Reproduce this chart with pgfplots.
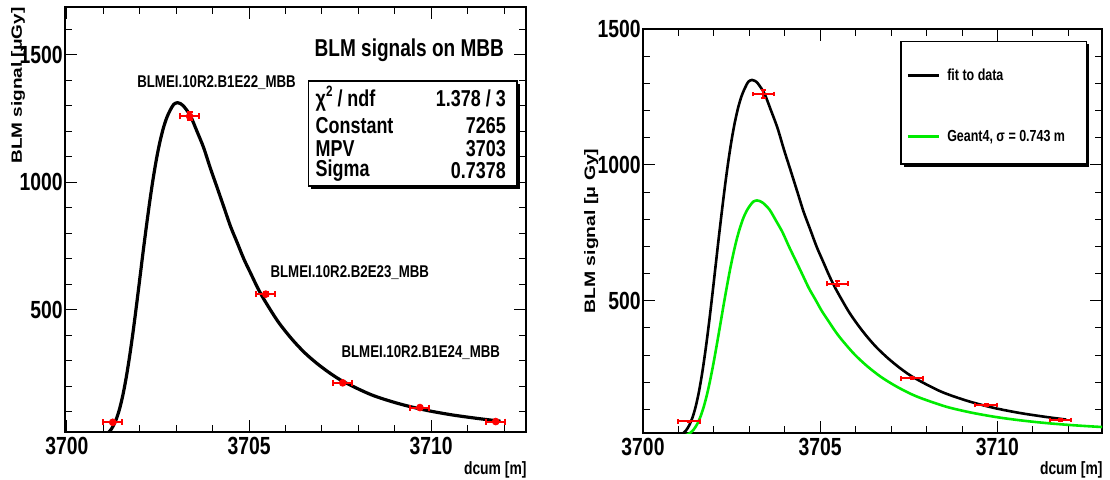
\documentclass[border=0pt]{standalone}
\usepackage{fontspec}
\setmainfont{Liberation Sans}[FakeStretch=0.78]
\newfontfamily\plainfont{Liberation Sans}
\usepackage{graphicx}
\usepackage{pgfplots}
\usepackage{pgfplotstable}
\pgfplotsset{compat=1.18}
\definecolor{rootgreen}{RGB}{0,235,0}
\definecolor{rootred}{RGB}{255,0,0}

\pgfplotstableread{
x y ex ey
3701.26 58 0.26 3
3703.37 1259 0.26 15
3705.46 561 0.26 9
3707.57 213 0.26 4
3709.69 116 0.26 3
3711.77 61 0.26 2
}\dataL

\pgfplotstableread{
x y ex ey
3701.30 56 0.30 3
3703.39 1261 0.30 15
3705.48 562 0.30 9
3707.59 215 0.30 4
3709.68 116 0.30 3
3711.78 61 0.30 2
}\dataR

\pgfplotstableread{
x y
3700.987 4.9
3701.079 10.9
3701.171 22.0
3701.263 41
3701.356 69.8
3701.448 111
3701.540 166.2
3701.632 235.7
3701.724 318.2
3701.817 412
3701.909 513.7
3702.001 619.9
3702.093 726.6
3702.186 829.9
3702.278 927.3
3702.370 1015.5
3702.462 1093.2
3702.554 1158.4
3702.647 1211.8
3702.739 1252.4
3702.831 1281.5
3702.933 1306
3703.036 1312.5
3703.118 1309
3703.200 1299.7
3703.385 1262.7
3703.569 1200.9
3703.754 1136
3703.938 1055.6
3704.123 980
3704.307 903.8
3704.492 827
3704.676 762.8
3704.861 698
3705.045 642.9
3705.229 588
3705.413 539.8
3705.782 456.2
3706.151 388.7
3706.520 332
3706.889 286.2
3707.258 247.3
3707.627 215.0
3708.365 165.6
3709.102 131.6
3709.840 106.0
3710.578 87.0
3711.316 72.4
3711.900 62.5
}\fitL

\pgfplotstableread{
x y
3701.027 4.9
3701.119 10.9
3701.211 22.0
3701.303 41
3701.396 69.8
3701.488 111
3701.580 166.2
3701.672 235.7
3701.764 318.2
3701.857 412
3701.949 513.7
3702.041 619.9
3702.133 726.6
3702.226 829.9
3702.318 927.3
3702.410 1015.5
3702.502 1093.2
3702.594 1158.4
3702.687 1211.8
3702.779 1252.4
3702.871 1281.5
3702.973 1306
3703.076 1312.5
3703.158 1309
3703.240 1299.7
3703.425 1262.7
3703.609 1200.9
3703.794 1136
3703.978 1055.6
3704.163 980
3704.347 903.8
3704.532 827
3704.716 762.8
3704.901 698
3705.085 642.9
3705.269 588
3705.453 539.8
3705.822 456.2
3706.191 388.7
3706.560 332
3706.929 286.2
3707.298 247.3
3707.667 215.0
3708.405 165.6
3709.142 131.6
3709.880 106.0
3710.618 87.0
3711.356 72.4
3711.940 62.5
}\fitR

\pgfplotstableread{
x y
3701.160 3.2
3701.253 7.2
3701.345 14.6
3701.438 27.1
3701.530 46.2
3701.623 73.6
3701.715 110.0
3701.808 156.1
3701.900 210.7
3701.993 272.8
3702.085 340.1
3702.178 410.4
3702.270 481.1
3702.363 549.5
3702.455 613.9
3702.548 672.3
3702.640 723.8
3702.733 767.0
3702.825 802.3
3702.918 829.2
3703.010 848.5
3703.112 864.6
3703.215 869.0
3703.298 866.6
3703.380 860.5
3703.565 836.0
3703.750 795.1
3703.935 752.1
3704.120 698.9
3704.305 648.8
3704.490 598.4
3704.675 547.5
3704.860 505.0
3705.045 462.1
3705.230 425.6
3705.415 389.3
3705.600 357.4
3705.970 302.0
3706.340 257.3
3706.710 219.8
3707.080 189.5
3707.450 163.7
3707.820 142.4
3708.560 109.6
3709.300 87.1
3710.040 70.2
3710.780 57.6
3711.520 47.9
3712.260 40.5
3713.000 34.6
}\geantfit

\pgfplotsset{
  rootaxis/.style={
    scale only axis,
    axis line style={line width=1pt},
    tick style={black, line width=0.5pt},
    major tick length=6pt,
    minor tick length=3.3pt,
    tick align=inside,
    xtick={3700,3705,3710},
    xticklabels={3700,3705,3710},
    minor xtick={3701,3702,3703,3704,3706,3707,3708,3709,3711,3712},
    ytick={500,1000,1500},
    yticklabels={500,1000,1500},
    tick label style={font=\bfseries\fontsize{12.4}{12.4}\selectfont},
    xticklabel style={inner sep=2.5pt},
    yticklabel style={inner sep=1pt},
    xlabel style={inner sep=0pt, anchor=east, font=\bfseries\fontsize{8.9}{8.9}\selectfont},
    ylabel style={inner sep=0pt},
  },
}

\begin{document}
\begin{tikzpicture}
\path[use as bounding box] (0,0) rectangle (555pt,239.5pt);

% ---------------- left panel ----------------
\begin{axis}[rootaxis,
  at={(32.5pt,23.5pt)}, anchor=south west,
  width=230.5pt, height=212.5pt,
  xmin=3699.95, xmax=3712.6, ymin=20, ymax=1688,
  minor ytick={100,200,300,400,600,700,800,900,1100,1200,1300,1400,1600},
  xlabel={dcum [m]},
  xlabel style={at={(axis description cs:1.002,-0.088)}},
  ylabel={\scalebox{1}[0.78]{\plainfont\bfseries\fontsize{9.5}{9.5}\selectfont BLM signal [μGy]}},
  ylabel style={at={(axis description cs:-0.102,1.0)}, anchor=east},
]
\addplot[black, line width=1.6pt, smooth] table[x=x,y=y] {\fitL};
\addplot[rootred, only marks, mark=*, mark size=1.7pt,
  error bars/.cd, x dir=both, x explicit, y dir=both, y explicit,
  error bar style={line width=1pt, rootred},
  error mark options={line width=1pt, rootred, mark size=1.5pt, rotate=90}]
  table[x=x, y=y, x error=ex, y error=ey] {\dataL};

\node[anchor=east, inner sep=0pt, font=\bfseries\fontsize{12.2}{12.2}\selectfont]
  at (axis description cs:0.953,0.899) {BLM signals on MBB};
\fill[black] ([xshift=1.3pt,yshift=-1.3pt]axis description cs:0.5275,0.579)
  rectangle ([xshift=1.3pt,yshift=-1.3pt]axis description cs:0.9805,0.826);
\filldraw[draw=black, fill=white, line width=0.6pt]
  (axis description cs:0.5275,0.579) rectangle (axis description cs:0.9805,0.826);
\node[anchor=west, inner sep=0pt, font=\bfseries\fontsize{11.5}{11.5}\selectfont]
  at (axis description cs:0.543,0.784) {χ\raisebox{0.85ex}{\fontsize{7.5}{7.5}\selectfont 2} / ndf};
\node[anchor=east, inner sep=0pt, font=\bfseries\fontsize{11.5}{11.5}\selectfont]
  at (axis description cs:0.957,0.784) {1.378 / 3};
\node[anchor=west, inner sep=0pt, font=\bfseries\fontsize{11.5}{11.5}\selectfont]
  at (axis description cs:0.543,0.722) {Constant};
\node[anchor=east, inner sep=0pt, font=\bfseries\fontsize{11.5}{11.5}\selectfont]
  at (axis description cs:0.957,0.722) {7265};
\node[anchor=west, inner sep=0pt, font=\bfseries\fontsize{11.5}{11.5}\selectfont]
  at (axis description cs:0.543,0.668) {MPV};
\node[anchor=east, inner sep=0pt, font=\bfseries\fontsize{11.5}{11.5}\selectfont]
  at (axis description cs:0.957,0.668) {3703};
\node[anchor=west, inner sep=0pt, font=\bfseries\fontsize{11.5}{11.5}\selectfont]
  at (axis description cs:0.543,0.616) {Sigma};
\node[anchor=east, inner sep=0pt, font=\bfseries\fontsize{11.5}{11.5}\selectfont]
  at (axis description cs:0.957,0.614) {0.7378};

\node[anchor=west, inner sep=0pt, font=\bfseries\fontsize{8.5}{8.5}\selectfont]
  at (axis description cs:0.156,0.821) {BLMEI.10R2.B1E22\_MBB};
\node[anchor=west, inner sep=0pt, font=\bfseries\fontsize{8.5}{8.5}\selectfont]
  at (axis description cs:0.445,0.374) {BLMEI.10R2.B2E23\_MBB};
\node[anchor=west, inner sep=0pt, font=\bfseries\fontsize{8.5}{8.5}\selectfont]
  at (axis description cs:0.599,0.186) {BLMEI.10R2.B1E24\_MBB};
\end{axis}

% ---------------- right panel ----------------
\begin{axis}[rootaxis,
  at={(321.5pt,23pt)}, anchor=south west,
  width=229.5pt, height=202pt,
  xmin=3700, xmax=3712.95, ymin=13, ymax=1500,
  minor ytick={100,200,300,400,600,700,800,900,1100,1200,1300,1400},
  xlabel={dcum [m]},
  xlabel style={at={(axis description cs:1.002,-0.0905)}},
  ylabel={\scalebox{1}[0.78]{\plainfont\bfseries\fontsize{9.7}{9.7}\selectfont BLM signal [μ Gy]}},
  ylabel style={at={(axis description cs:-0.113,0.5)}, anchor=center},
]
\addplot[black, line width=1.3pt, smooth] table[x=x,y=y] {\fitR};
\addplot[rootgreen, line width=1.3pt, smooth] table[x=x,y=y] {\geantfit};
\addplot[rootred, only marks, mark=*, mark size=0.3pt,
  error bars/.cd, x dir=both, x explicit, y dir=both, y explicit,
  error bar style={line width=1pt, rootred},
  error mark options={line width=1pt, rootred, mark size=1.2pt, rotate=90}]
  table[x=x, y=y, x error=ex, y error=ey] {\dataR};

\fill[black] ([xshift=1.3pt,yshift=-1.3pt]axis description cs:0.562,0.666)
  rectangle ([xshift=1.3pt,yshift=-1.3pt]axis description cs:0.967,0.970);
\filldraw[draw=black, fill=white, line width=0.6pt]
  (axis description cs:0.562,0.666) rectangle (axis description cs:0.967,0.970);
\draw[black, line width=1.5pt] (axis description cs:0.577,0.886) -- (axis description cs:0.645,0.886);
\draw[rootgreen, line width=1.5pt] (axis description cs:0.577,0.733) -- (axis description cs:0.645,0.733);
\node[anchor=west, inner sep=0pt, font=\bfseries\fontsize{8}{8}\selectfont]
  at (axis description cs:0.662,0.886) {fit to data};
\node[anchor=west, inner sep=0pt, font=\bfseries\fontsize{8}{8}\selectfont]
  at (axis description cs:0.662,0.733) {Geant4, σ = 0.743 m};
\end{axis}
\end{tikzpicture}
\end{document}
